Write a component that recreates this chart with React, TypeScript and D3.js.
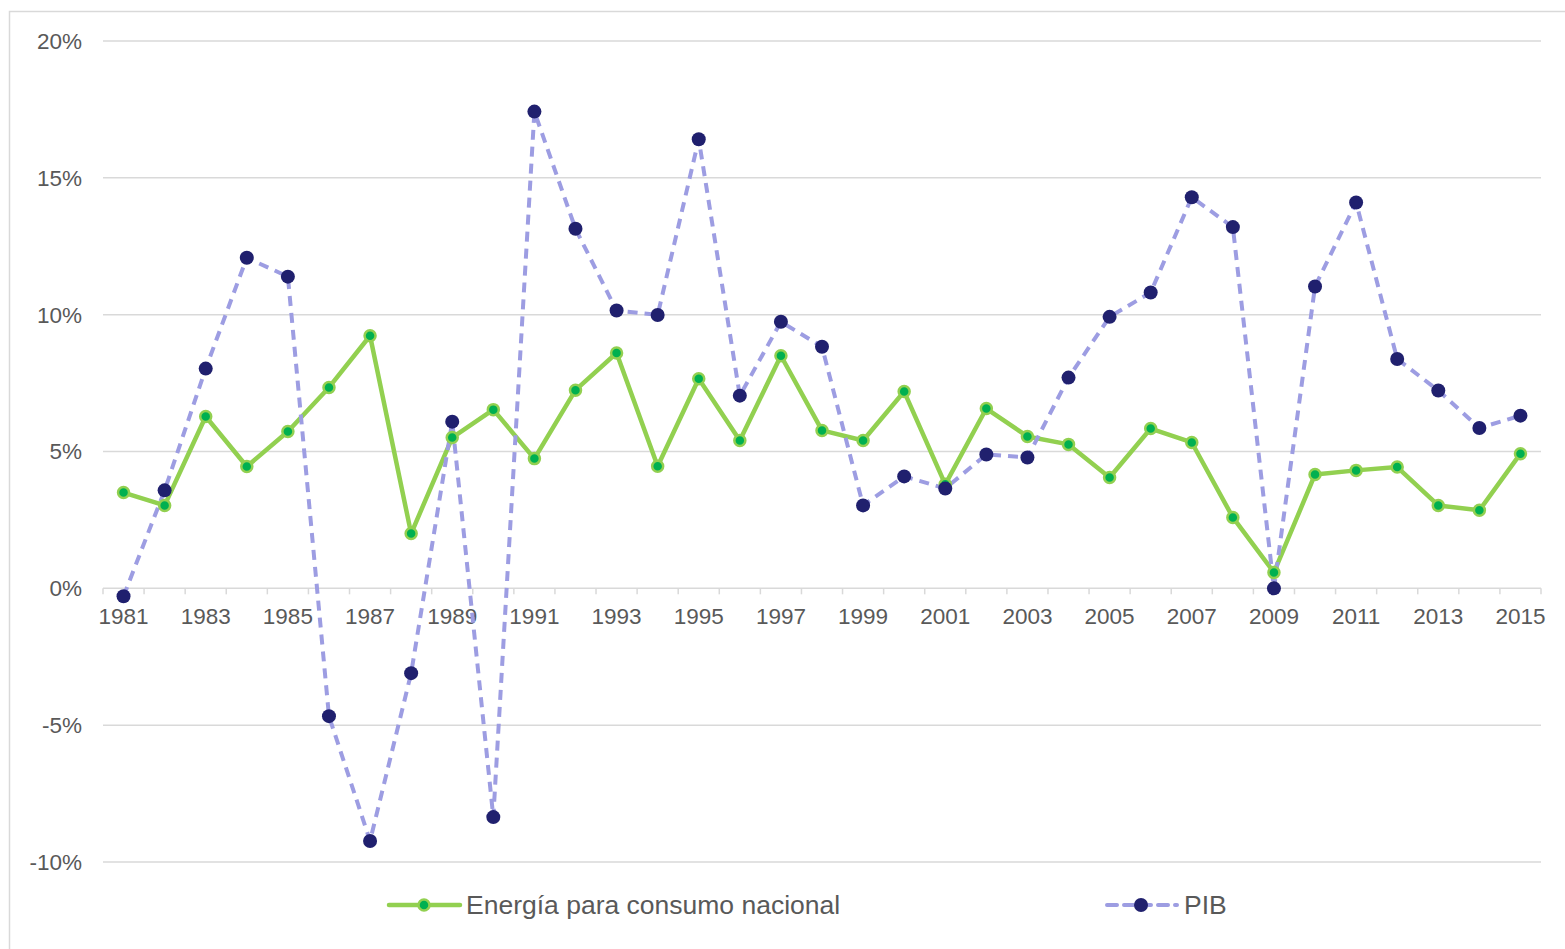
import React from "react";
import * as d3 from "d3";

const years: number[] = d3.range(1981, 2016);
const energia: number[] = [3.5, 3.03, 6.28, 4.45, 5.73, 7.34, 9.23, 2.0, 5.51, 6.53, 4.74, 7.24, 8.6, 4.46, 7.66, 5.4, 8.5, 5.77, 5.4, 7.19, 3.8, 6.57, 5.55, 5.26, 4.05, 5.84, 5.33, 2.59, 0.58, 4.16, 4.31, 4.43, 3.03, 2.85, 4.92];
const pib: number[] = [-0.29, 3.58, 8.03, 12.08, 11.39, -4.67, -9.23, -3.1, 6.09, -8.36, 17.42, 13.14, 10.15, 9.99, 16.41, 7.04, 9.74, 8.83, 3.03, 4.09, 3.65, 4.89, 4.78, 7.7, 9.92, 10.81, 14.29, 13.2, 0.0, 11.03, 14.1, 8.38, 7.23, 5.86, 6.31];
const yTicks: number[] = [-10, -5, 0, 5, 10, 15, 20];
const seriesNames: string[] = ["Energía para consumo nacional", "PIB"];

const W = 1565;
const H = 949;
const left = 103;
const right = 1541;
const top = 41;
const bottom = 862;

export default function App() {
  const x = d3.scaleBand<number>().domain(years).range([left, right]).padding(0);
  const y = d3.scaleLinear().domain([-10, 20]).range([bottom, top]);
  const cx = (yr: number) => (x(yr) as number) + x.bandwidth() / 2;
  const line = d3.line<number>().x((_, i) => cx(years[i])).y((v) => y(v));
  const font = "'Liberation Sans', Arial, sans-serif";
  const textColor = "#595959";
  const boundaries = years.map((yr) => x(yr) as number).concat([right]);

  return (
    <svg width={W} height={H} style={{ position: "absolute", left: 0, top: 0 }}>
      <rect x={0} y={0} width={W} height={H} fill="#fff" />
      <rect x={9.5} y={11.5} width={W + 20} height={H + 20} fill="none" stroke="#d9d9d9" strokeWidth={1.5} />
      {yTicks.map((t) => (
        <g key={t}>
          <line x1={left} x2={right} y1={y(t)} y2={y(t)} stroke="#d9d9d9" strokeWidth={1.5} />
          <text x={82} y={y(t)} dy="0.35em" textAnchor="end" fontFamily={font} fontSize={22.5} fill={textColor}>
            {t}%
          </text>
        </g>
      ))}
      {boundaries.map((b, i) => (
        <line key={i} x1={b} x2={b} y1={y(0)} y2={y(0) + 6} stroke="#d9d9d9" strokeWidth={1.5} />
      ))}
      {years.map((yr, i) =>
        i % 2 === 0 ? (
          <text key={yr} x={cx(yr)} y={y(0) + 36} textAnchor="middle" fontFamily={font} fontSize={22.5} fill={textColor}>
            {yr}
          </text>
        ) : null
      )}
      <path d={line(energia) || ""} fill="none" stroke="#92D050" strokeWidth={4.5} strokeLinejoin="round" />
      <path d={line(pib) || ""} fill="none" stroke="#9D9DE2" strokeWidth={4} strokeDasharray="10 7" strokeLinejoin="round" />
      {energia.map((v, i) => (
        <circle key={"e" + i} cx={cx(years[i])} cy={y(v)} r={5.5} fill="#00B050" stroke="#92D050" strokeWidth={2.5} />
      ))}
      {pib.map((v, i) => (
        <circle key={"p" + i} cx={cx(years[i])} cy={y(v)} r={7} fill="#20206E" />
      ))}
      <g>
        <line x1={389} x2={460} y1={905} y2={905} stroke="#92D050" strokeWidth={4.5} strokeLinecap="round" />
        <circle cx={424} cy={905} r={5.5} fill="#00B050" stroke="#92D050" strokeWidth={2.5} />
        <text x={466} y={905} dy="0.35em" fontFamily={font} fontSize={26.5} fill={textColor}>
          {seriesNames[0]}
        </text>
        <line x1={1107} x2={1177} y1={905} y2={905} stroke="#9D9DE2" strokeWidth={4} strokeDasharray="10 7" strokeLinecap="round" />
        <circle cx={1141} cy={905} r={7} fill="#20206E" />
        <text x={1184} y={905} dy="0.35em" fontFamily={font} fontSize={26.5} fill={textColor}>
          {seriesNames[1]}
        </text>
      </g>
    </svg>
  );
}
